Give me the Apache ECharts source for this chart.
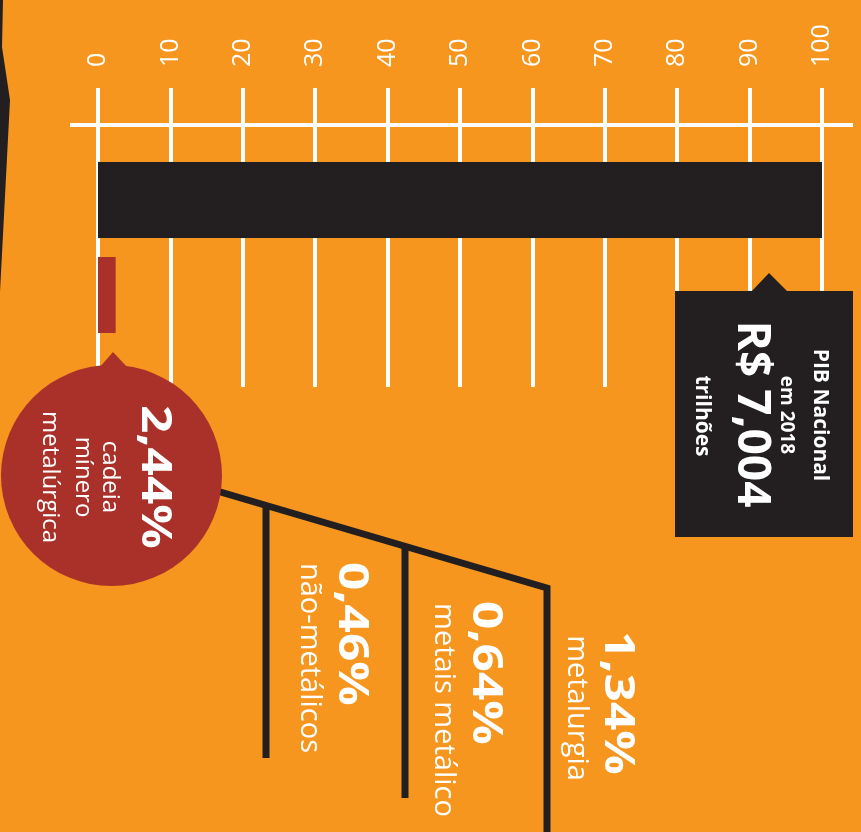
<!DOCTYPE html>
<html>
<head>
<meta charset="utf-8">
<title>PIB Nacional 2018 – cadeia mínero-metalúrgica</title>
<script src="https://cdn.jsdelivr.net/npm/echarts@6.0.0/dist/echarts.min.js"></script>
<style>
  html, body { margin: 0; padding: 0; background: #F7961F; }
  #chart { width: 861px; height: 832px; }
</style>
</head>
<body>
<div id="chart"></div>
<script>
// Scale ticks (share of national GDP, %)
const tickValues = [0, 10, 20, 30, 40, 50, 60, 70, 80, 90, 100];

// Bars: national GDP vs. the mineral-metallurgical chain
const categories = ['PIB Nacional', 'Cadeia mínero-metalúrgica'];
const shareValues = [100, 2.44];

// Callout texts
const pibLines = ['PIB Nacional', 'em 2018', 'R$ 7,004', 'trilhões'];
const chainLines = ['cadeia', 'mínero', 'metalúrgica'];

// Breakdown of the chain
const segmentNames = ['não-metálicos', 'metais metálico', 'metalurgia'];
const segmentValues = [0.46, 0.64, 1.34];

const COLORS = {
  bg: '#F7961F',
  dark: '#231F20',
  red: '#A9312A',
  white: '#FFFFFF'
};
const FONT = '"Open Sans", "Noto Sans", sans-serif';

const pct = v => v.toFixed(2).replace('.', ',') + '%';

// Text rotated a quarter turn clockwise, centred on (x, y)
function vtext(x, y, text, size, weight, sx) {
  return {
    type: 'text', x: x, y: y, z: 20,
    rotation: -Math.PI / 2,
    scaleX: sx || 1,
    style: {
      text: text,
      fill: COLORS.white,
      fontSize: size,
      fontWeight: weight,
      fontFamily: FONT,
      align: 'center', verticalAlign: 'middle',
      textAlign: 'center', textVerticalAlign: 'middle'
    }
  };
}

const chart = echarts.init(document.getElementById('chart'), null, { renderer: 'canvas' });

const graphics = [
  // dark torn edge on the left
  { type: 'polygon', z: 5, shape: { points: [[0, 0], [3, 0], [2, 47], [10, 100], [0, 292]] },
    style: { fill: COLORS.dark } },
  // long scale baseline
  { type: 'line', z: 5, shape: { x1: 70, y1: 125, x2: 853, y2: 125 },
    style: { stroke: COLORS.white, lineWidth: 4 } },

  // breakdown branches
  { type: 'polyline', z: 6, shape: { points: [[200, 486], [547, 588], [547, 840]] },
    style: { stroke: COLORS.dark, lineWidth: 7, fill: null, lineJoin: 'miter' } },
  { type: 'line', z: 6, shape: { x1: 266, y1: 504, x2: 266, y2: 758 },
    style: { stroke: COLORS.dark, lineWidth: 7 } },
  { type: 'line', z: 6, shape: { x1: 405, y1: 545, x2: 405, y2: 798 },
    style: { stroke: COLORS.dark, lineWidth: 7 } },

  // GDP callout box with pointer
  { type: 'rect', z: 15, shape: { x: 675, y: 291, width: 178, height: 246 },
    style: { fill: COLORS.dark } },
  { type: 'polygon', z: 15, shape: { points: [[751, 292], [769, 273], [788, 292]] },
    style: { fill: COLORS.dark } },

  // chain callout bubble with pointer
  { type: 'circle', z: 15, shape: { cx: 111.5, cy: 475.5, r: 110.5 },
    style: { fill: COLORS.red } },
  { type: 'polygon', z: 15, shape: { points: [[99, 368], [113, 352], [128, 368]] },
    style: { fill: COLORS.red } },

  // GDP texts
  vtext(820, 415, pibLines[0], 21, 'bold'),
  vtext(786, 415, pibLines[1], 19, 'bold'),
  vtext(751, 414, pibLines[2], 46, 'bold'),
  vtext(702, 416, pibLines[3], 21, 'bold'),

  // chain texts
  vtext(154, 477, pct(shareValues[1]), 42, 'bold', 1.18),
  vtext(110, 477, chainLines[0], 24, 500),
  vtext(83, 477, chainLines[1], 24, 500),
  vtext(50, 477, chainLines[2], 24, 500),

  // breakdown texts
  vtext(351, 634, pct(segmentValues[0]), 42, 'bold', 1.18),
  vtext(309, 658, segmentNames[0], 29, 500),
  vtext(485, 673, pct(segmentValues[1]), 42, 'bold', 1.18),
  vtext(443, 710, segmentNames[1], 29, 500),
  vtext(617, 703, pct(segmentValues[2]), 42, 'bold', 1.18),
  vtext(576, 708, segmentNames[2], 29, 500)
];

const xMin = tickValues[0];
const xMax = tickValues[tickValues.length - 1];
const xStep = tickValues[1] - tickValues[0];

const option = {
  backgroundColor: COLORS.bg,
  animation: false,
  grid: [
    // scale with its grid lines
    { left: 98, right: 39, top: 125, height: 262, outerBoundsMode: 'none', containLabel: false },
    // bars
    { left: 98, right: 39, top: 152.5, height: 190, outerBoundsMode: 'none', containLabel: false }
  ],
  xAxis: [
    {
      gridIndex: 0, type: 'value', position: 'top',
      min: xMin, max: xMax, interval: xStep,
      axisLine: { show: false },
      axisTick: { show: true, length: 37, lineStyle: { color: COLORS.white, width: 4 } },
      splitLine: { show: true, lineStyle: { color: COLORS.white, width: 4 } },
      axisLabel: {
        rotate: -90, margin: 58, color: COLORS.white,
        fontSize: 25, fontFamily: FONT, fontWeight: 'normal'
      }
    },
    { gridIndex: 1, type: 'value', min: xMin, max: xMax, show: false }
  ],
  yAxis: [
    { gridIndex: 0, type: 'category', data: [''], show: false },
    { gridIndex: 1, type: 'category', data: categories, inverse: true, show: false }
  ],
  series: [
    {
      type: 'bar', xAxisIndex: 1, yAxisIndex: 1, barWidth: 76, z: 3,
      data: shareValues.map((v, i) => ({
        value: v,
        itemStyle: { color: i === 0 ? COLORS.dark : COLORS.red }
      }))
    }
  ],
  graphic: { elements: graphics }
};

chart.setOption(option);
</script>
</body>
</html>
